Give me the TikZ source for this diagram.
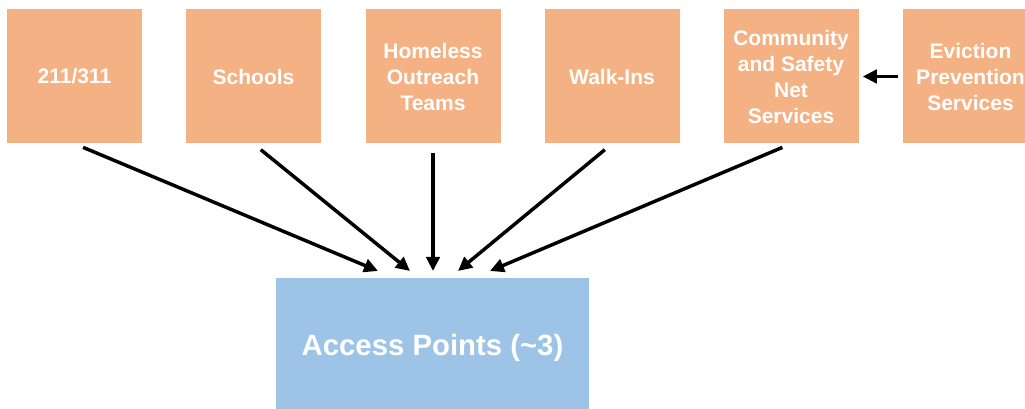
\documentclass[tikz,border=0pt]{standalone}
\usepackage{fontspec}
\setmainfont{Liberation Sans}
\usetikzlibrary{arrows.meta}

\definecolor{srcorange}{RGB}{244,177,131}
\definecolor{accblue}{RGB}{157,195,230}

\begin{document}
\begin{tikzpicture}[x=0.75pt, y=-0.75pt, line join=round, >={Triangle[length=10.5pt,width=10pt]},
	src/.style={fill=srcorange, minimum width=101.25pt, minimum height=100.5pt, inner sep=0pt, align=center, text=white, font=\bfseries\fontsize{15.75}{19.5}\selectfont},
	acc/.style={fill=accblue, minimum width=234.75pt, minimum height=105pt, inner sep=0pt, text=white, font=\bfseries\fontsize{22}{26}\selectfont},
	feed/.style={->, line width=2.6pt, shorten <=7pt}]
	\useasboundingbox (0,0) rectangle (1025,409);
	\clip (0,0) rectangle (1025,409);
	% referral sources
	\node[src] (hotline) at (74.5,76.5) {211/311};
	\node[src] (schools) at (253.5,76.5) {Schools};
	\node[src] (outreach) at (433,76.5) {Homeless\\Outreach\\Teams};
	\node[src] (walkins) at (612,76.5) {Walk-Ins};
	\node[src] (safetynet) at (791,76.5) {Community\\and Safety\\Net\\Services};
	\node[src] (eviction) at (970.5,76.5) {Eviction\\Prevention\\Services};
	% entry
	\node[acc] (access) at (432.5,348) {Access Points (\textasciitilde3)};
	\coordinate (in1) at (378,271);
	\coordinate (in2) at (410,271);
	\coordinate (in3) at (433,271);
	\coordinate (in4) at (458,271);
	\coordinate (in5) at (490,271);
	\draw[feed] (hotline.south) -- (in1);
	\draw[feed] (schools.south) -- (in2);
	\draw[feed] (outreach.south) -- (in3);
	\draw[feed] (walkins.south) -- (in4);
	\draw[feed] (safetynet.south) -- (in5);
	\draw[->, line width=2.6pt, shorten <=3.75pt, shorten >=3pt] (eviction.west) -- (safetynet.east);
\end{tikzpicture}
\end{document}
